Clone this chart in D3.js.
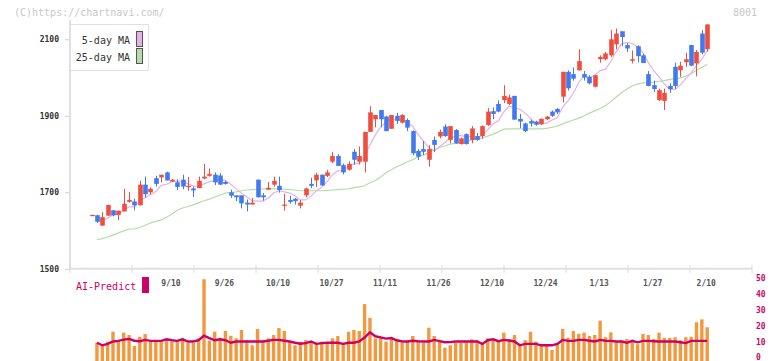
<!DOCTYPE html>
<html><head><meta charset="utf-8">
<script src="https://cdn.jsdelivr.net/npm/d3@7/dist/d3.min.js"></script>
<style>
body{margin:0;background:#fff}
svg{display:block}
text{font-family:"DejaVu Sans Mono",monospace}
</style>
</head><body><svg id="c" width="772" height="361"></svg>
<script>
// ---- data ----
const opens  = [1640,1640,1613,1639,1653,1641,1650,1675,1676,1666,1720,1700,1737,1739,1752,1728,1726,1733,1716,1710,1711,1736,1743,1746,1744,1727,1700,1692,1692,1673,1668,1733,1692,1707,1720,1717,1667,1680,1683,1665,1692,1722,1731,1746,1743,1780,1795,1771,1759,1806,1780,1780,1858,1891,1915,1898,1866,1900,1882,1889,1860,1808,1813,1785,1837,1846,1872,1837,1863,1826,1852,1837,1847,1847,1876,1912,1931,1941,1931,1952,1892,1880,1886,1885,1878,1891,1911,1918,1950,2015,2009,2019,2009,2002,1976,2048,2048,2058,2087,2121,2085,2044,2082,2058,2009,1980,1941,1939,1978,2028,2019,2040,2085,2037,2115,2074];
const highs  = [1641,1641,1648,1667,1654,1652,1709,1701,1683,1730,1741,1713,1743,1746,1754,1735,1734,1746,1740,1715,1741,1774,1762,1752,1750,1730,1707,1692,1692,1681,1685,1733,1698,1727,1741,1741,1696,1691,1685,1680,1712,1738,1751,1746,1758,1806,1800,1775,1781,1813,1820,1858,1925,1902,1915,1900,1902,1908,1904,1893,1862,1813,1834,1823,1846,1864,1878,1873,1865,1843,1854,1873,1855,1875,1920,1922,1940,1980,1955,1952,1905,1882,1890,1887,1893,1900,1914,1920,2015,2019,2026,2074,2017,2006,2007,2058,2067,2124,2128,2121,2090,2071,2084,2062,2017,1992,1971,1971,1985,2039,2041,2065,2085,2072,2124,2139];
const lows   = [1639,1620,1612,1638,1637,1627,1650,1673,1653,1666,1686,1694,1715,1726,1731,1727,1706,1708,1704,1688,1711,1734,1741,1719,1719,1720,1685,1677,1658,1650,1668,1687,1678,1707,1715,1699,1652,1670,1668,1658,1687,1711,1714,1717,1740,1776,1769,1747,1757,1772,1773,1752,1858,1870,1870,1860,1866,1879,1880,1860,1797,1784,1797,1767,1805,1841,1845,1828,1827,1825,1825,1828,1835,1840,1873,1891,1909,1933,1928,1890,1868,1857,1872,1874,1877,1889,1897,1905,1935,1966,1992,2018,1992,1982,1974,2039,2045,2054,2074,2082,2067,2037,2040,2038,1977,1962,1939,1915,1960,1970,2002,2028,2030,2003,2061,2068];
const closes = [1641,1623,1635,1667,1640,1652,1670,1680,1666,1720,1695,1709,1722,1746,1731,1733,1714,1715,1717,1705,1730,1741,1748,1726,1720,1722,1691,1687,1671,1668,1673,1687,1687,1712,1730,1706,1668,1675,1677,1673,1710,1717,1746,1718,1752,1795,1769,1752,1774,1785,1795,1858,1909,1902,1891,1860,1902,1887,1902,1869,1802,1793,1806,1813,1824,1858,1847,1873,1828,1841,1826,1867,1837,1873,1911,1905,1911,1952,1948,1890,1885,1860,1880,1877,1892,1898,1900,1909,2015,1972,1997,2043,2000,1985,2006,2054,2063,2100,2115,2106,2076,2048,2056,2038,1978,1970,1967,1960,1970,1978,2031,2048,2031,2067,2065,2139];
const ma5    = [null,1624,1626,1633,1641,1643,1653,1662,1662,1678,1686,1694,1702,1718,1721,1728,1729,1728,1722,1717,1716,1722,1728,1730,1733,1731,1721,1709,1698,1688,1678,1677,1677,1685,1698,1704,1701,1698,1691,1680,1680,1690,1704,1713,1728,1746,1756,1757,1768,1775,1775,1793,1824,1850,1871,1884,1893,1888,1888,1884,1872,1851,1834,1817,1808,1819,1830,1843,1846,1849,1843,1847,1840,1849,1863,1879,1887,1910,1925,1921,1917,1907,1893,1878,1879,1881,1889,1895,1923,1939,1959,1987,2005,1999,2006,2018,2022,2042,2068,2088,2092,2089,2080,2065,2039,2018,2002,1983,1969,1969,1981,1997,2012,2031,2048,2070];
const ma25   = [null,1576,1579,1583,1588,1594,1599,1604,1604,1608,1614,1620,1624,1628,1635,1643,1653,1659,1663,1667,1673,1678,1682,1687,1693,1698,1700,1701,1704,1706,1707,1708,1709,1709,1709,1709,1708,1707,1706,1704,1704,1704,1704,1704,1705,1706,1707,1708,1709,1712,1714,1717,1725,1731,1740,1751,1759,1767,1773,1780,1785,1793,1798,1803,1811,1817,1821,1826,1828,1830,1833,1837,1840,1842,1847,1852,1858,1865,1866,1866,1866,1866,1866,1866,1866,1867,1870,1873,1879,1884,1889,1894,1900,1907,1913,1919,1927,1937,1949,1960,1970,1978,1983,1986,1987,1988,1990,1992,1995,1997,1999,2004,2010,2019,2027,2034];
const volume = [null,9.2,7.1,9.9,16.2,10.5,15.6,14.1,7.2,13,14.7,9.9,9.9,9.9,11.4,9.9,10.8,12,9.2,9.2,12,49.4,10.5,16.2,12,16.7,13.6,12,17.3,10.8,7.6,17.9,10.5,12,14.1,18.5,16.7,9.9,7.6,9.9,10.9,9.2,9.2,9.9,9.2,12,13.5,9.2,16.2,17.3,16.7,33.7,25,12,13,9.9,12,10.5,9.2,9.9,13.5,10.8,9.2,18.7,13.5,10.8,6.1,7.6,9.2,9.2,9.9,11.4,10.8,8.9,12,10.8,9.9,15.6,11.6,14.1,7.6,10.8,16.2,9.9,7.6,7.6,4.6,8.3,18,12.3,16.7,14.8,15.6,13.5,14.1,23.2,12.7,15.8,9.9,10.8,11.6,9.9,8.3,14.8,14.1,11.6,15.6,12.3,12.3,12.7,10.8,12.7,13,22.2,24,19];
const aiPredict = [null,9.2,7.6,8.5,10,10.4,11.2,11.6,10.5,10.2,11,10.4,10.4,10.4,11.4,10.8,10.4,11.4,10,10,10.8,13.7,12.2,10.8,11.4,10.8,9.2,10,10,10,10,10,10,10.5,11,11,10.5,10,9.2,8.6,9,10,8.5,9,9.2,9.2,9.2,8.5,9.2,9.2,10,12.5,15.8,13.3,12.6,11.8,12.2,10.8,10,10,10.5,10.2,10,10,11,10.2,9.5,9.6,10,10,10,10,10,8.5,10.8,11.4,10.2,11,10.6,10,7.6,8.5,8.5,8.5,7.6,7.6,7.6,8.5,11,10.4,10.4,11,11,10.5,10,11,10.5,10.4,10,10,9.2,10.4,9.5,10.4,10.4,10.2,10,10,10,10,9.5,9,10.4,10.4,10.4,10.4];
const dateLabels = ["9/10","9/26","10/10","10/27","11/11","11/26","12/10","12/24","1/13","1/27","2/10"];
const dateLabelIndex = [15,25,35,45,55,65,75,85,95,105,115];
const priceTicks = [1500,1700,1900,2100];
const aiTicks = [0,10,20,30,40,50];
const legendItems = ["5-day MA","25-day MA"];

// ---- drawing ----
const svg = d3.select("#c");
const n = closes.length;
const x = d3.scaleLinear().domain([0, n-1]).range([91.6, 707.2]);
const y = d3.scaleLinear().domain([1500, 2100]).range([268.8, 39.3]);
const yv = d3.scaleLinear().domain([0, 50]).range([357.3, 278.3]);
const tickPx = d3.scaleLinear().domain([0, 11]).range([70, 752]);

const RED = "#ef4e3e", BLUE = "#4279ee";
const PINK = "#e6b0e8", GREEN = "#b4dca6";
const CRIM = "#cc0066", ORANGE = "#f2993f";

// watermark
svg.append("text").attr("x",14).attr("y",16).attr("font-size",10).attr("fill","#c8c8c8").text("(C)https://chartnavi.com/");
svg.append("text").attr("x",757).attr("y",16).attr("text-anchor","end").attr("font-size",10).attr("fill","#c8c8c8").text("8001");

// y axis
const yAxis = d3.axisLeft(y).tickValues(priceTicks).tickSize(5).tickSizeOuter(0).tickPadding(6).tickFormat(d3.format("d"));
const gy = svg.append("g").attr("transform","translate(70,0)").call(yAxis);
gy.select(".domain").remove();
gy.selectAll(".tick line").attr("stroke","#cfcfcf");
gy.selectAll(".tick text").attr("font-size",8).attr("fill","#333").attr("font-family","DejaVu Sans Mono").attr("font-weight","bold");
svg.append("line").attr("x1",70).attr("x2",70).attr("y1",20).attr("y2",y(1500)).attr("stroke","#e0e0e0").attr("stroke-width",2);

// x axis line + decorative ticks
svg.append("line").attr("x1",70).attr("x2",752).attr("y1",y(1500)).attr("y2",y(1500)).attr("stroke","#e0e0e0").attr("stroke-width",2);
svg.append("g").selectAll("line").data(d3.range(12)).join("line")
  .attr("x1",d=>Math.round(tickPx(d))).attr("x2",d=>Math.round(tickPx(d)))
  .attr("y1",265).attr("y2",273).attr("stroke","#dcdcdc").attr("stroke-width",1);

// MA lines
const lineGen = arr => d3.line().defined(d=>d!==null).x((d,i)=>x(i)).y(d=>y(d))(arr);
svg.append("path").attr("d",lineGen(ma25)).attr("fill","none").attr("stroke",GREEN).attr("stroke-width",1.2);
svg.append("path").attr("d",lineGen(ma5)).attr("fill","none").attr("stroke",PINK).attr("stroke-width",1.2);

// candles
const idx = d3.range(n);
const cg = svg.append("g");
cg.selectAll("line.w").data(idx).join("line").attr("class","w")
  .attr("x1",i=>Math.round(x(i))+0.5).attr("x2",i=>Math.round(x(i))+0.5)
  .attr("y1",i=>y(highs[i])).attr("y2",i=>y(lows[i]))
  .attr("stroke",i=>closes[i]>=opens[i]?RED:BLUE).attr("stroke-width",1);
cg.selectAll("rect.b").data(idx).join("rect").attr("class","b")
  .attr("x",i=>Math.round(x(i))-1.8).attr("width",4.6)
  .attr("y",i=>y(Math.max(opens[i],closes[i])))
  .attr("height",i=>Math.max(1.3, Math.abs(y(opens[i])-y(closes[i]))))
  .attr("fill",i=>closes[i]>=opens[i]?RED:BLUE);

// legend
const lg = svg.append("g");
lg.append("rect").attr("x",70.5).attr("y",24.5).attr("width",78).attr("height",46).attr("fill","#fff").attr("stroke","#e0e0e0");
const swatch = [PINK, GREEN];
legendItems.forEach((t,k)=>{
  lg.append("text").attr("x",130).attr("y",44+k*17).attr("text-anchor","end").attr("font-size",10).attr("fill","#333").text(t);
  lg.append("rect").attr("x",136.5).attr("y",31.5+k*17).attr("width",6).attr("height",15).attr("fill",swatch[k]).attr("stroke","#555");
});

// date labels
svg.append("g").selectAll("text").data(dateLabels).join("text")
  .attr("x",(d,k)=>x(dateLabelIndex[k])-1).attr("y",286).attr("text-anchor","middle")
  .attr("font-size",8).attr("fill","#555").attr("font-weight","bold").text(d=>d);

// AI predict panel
svg.append("text").attr("x",76).attr("y",290).attr("font-size",10).attr("fill",CRIM).text("AI-Predict");
svg.append("rect").attr("x",142).attr("y",277).attr("width",7).attr("height",16).attr("fill",CRIM);

svg.append("g").selectAll("rect").data(idx.filter(i=>volume[i]!==null)).join("rect")
  .attr("x",i=>x(i)-1.7).attr("width",3.4)
  .attr("y",i=>yv(volume[i])).attr("height",i=>yv(0)-yv(volume[i])+4)
  .attr("fill",ORANGE);
svg.append("path").attr("d",d3.line().defined(d=>d!==null).x((d,i)=>x(i)).y(d=>yv(d))(aiPredict))
  .attr("fill","none").attr("stroke",CRIM).attr("stroke-width",2.4);

const aiAxis = d3.axisRight(yv).tickValues(aiTicks).tickSize(0).tickPadding(0);
const ga = svg.append("g").attr("transform","translate(756,0)").call(aiAxis);
ga.select(".domain").remove();
ga.selectAll(".tick text").attr("font-size",8).attr("fill",CRIM).attr("font-family","DejaVu Sans Mono").attr("font-weight","bold");
</script>
</body></html>
